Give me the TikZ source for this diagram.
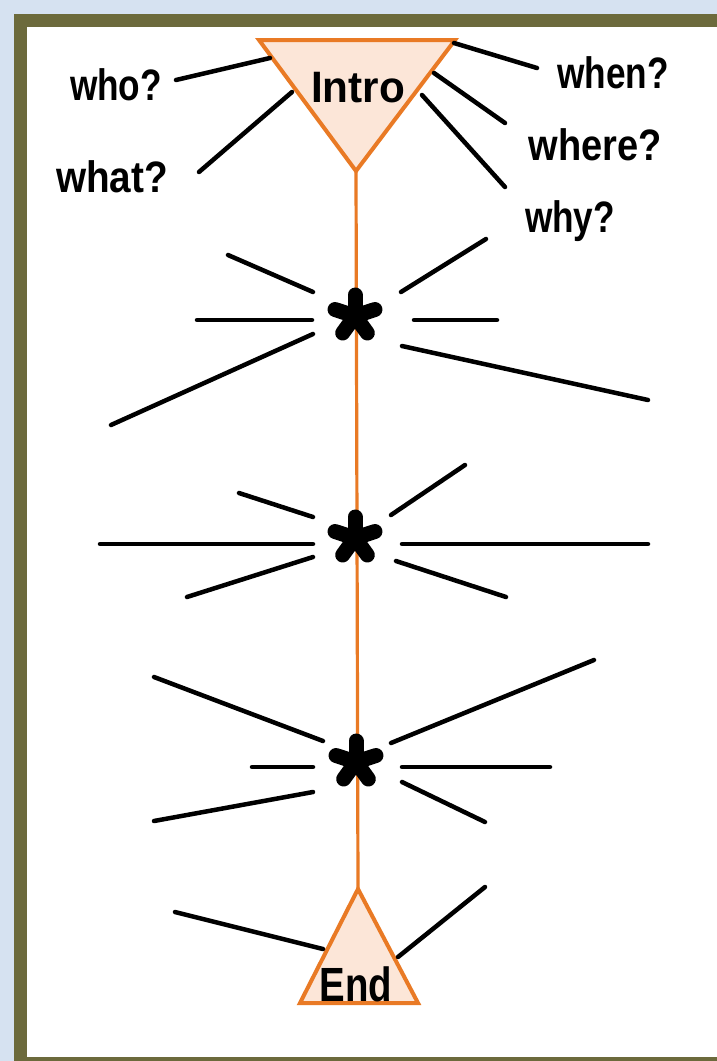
\documentclass[tikz,border=0pt]{standalone}
\usepackage{fontspec}
\setmainfont{Liberation Sans}[FakeStretch=0.8]
\definecolor{bgblue}{HTML}{D6E2F1}
\definecolor{olive}{HTML}{6C6A3C}
\definecolor{paper}{HTML}{FFFFFF}
\definecolor{tri}{HTML}{E97A25}
\definecolor{trifill}{HTML}{FCE6D8}
\tikzset{
  lbl/.style={anchor=base, inner sep=0pt, font=\fontsize{44}{44}\selectfont\bfseries},
  stroke/.style={draw=black, line width=4.5pt, line cap=round},
  spine/.style={draw=tri, line width=3.2pt},
  tribox/.style={draw=tri, fill=trifill, line width=4pt, line join=miter},
  asterisk/.pic={
    \foreach \a in {-90,-18,54,126,198}
      \draw[line width=15pt, line cap=round] (0,0) -- (\a:21);
  }
}
\begin{document}
\begin{tikzpicture}[x=1pt,y=-1pt]
\useasboundingbox (0,0) rectangle (717,1061);
% frame
\fill[bgblue] (0,0) rectangle (717,1061);
\fill[olive] (14,14) rectangle (717,1061);
\fill[paper] (27,27) rectangle (717,1057);

% coordinates of triangles
\coordinate (iL) at (259,40);
\coordinate (iR) at (455,40);
\coordinate (iA) at (356,171);
\coordinate (eA) at (358,889);
\coordinate (eL) at (300,1003);
\coordinate (eR) at (418,1003);

% spine
\draw[spine] (iA) -- (eA);

% triangles
\draw[tribox] (iL) -- (iR) -- (iA) -- cycle;
\draw[tribox] (eA) -- (eR) -- (eL) -- cycle;
\node[lbl] (intro) at (358,102) {\scalebox{1.2}[1]{Intro}};
\node[lbl, font=\fontsize{48}{48}\selectfont\bfseries] (end) at (356,1001) {End};

% labels
\node[lbl] (who) at (116,100) {who?};
\node[lbl] (what) at (112,192) {\scalebox{1.1}[1]{what?}};
\node[lbl] (when) at (613,88) {when?};
\node[lbl] (where) at (595,160) {\scalebox{1.08}[1]{where?}};
\node[lbl] (why) at (570,232) {why?};

% intro strokes
\draw[stroke] (176,80) -- (270,58);
\draw[stroke] (199,172) -- (292,92);
\draw[stroke] (454,43) -- (537,68);
\draw[stroke] (434,73) -- (505,123);
\draw[stroke] (422,95) -- (505,187);

% stars
\coordinate (s1) at (355,316);
\coordinate (s2) at (355,538);
\coordinate (s3) at (356,762);
\pic at (s1) {asterisk};
\pic at (s2) {asterisk};
\pic at (s3) {asterisk};

% star 1 strokes
\draw[stroke] (228,255) -- (313,292);
\draw[stroke] (197,320) -- (312,320);
\draw[stroke] (111,425) -- (313,334);
\draw[stroke] (401,292) -- (486,239);
\draw[stroke] (414,320) -- (497,320);
\draw[stroke] (402,346) -- (648,400);

% star 2 strokes
\draw[stroke] (239,493) -- (313,517);
\draw[stroke] (100,544) -- (313,544);
\draw[stroke] (187,597) -- (313,557);
\draw[stroke] (391,515) -- (465,465);
\draw[stroke] (402,544) -- (648,544);
\draw[stroke] (396,561) -- (506,597);

% star 3 strokes
\draw[stroke] (154,677) -- (323,741);
\draw[stroke] (252,767) -- (313,767);
\draw[stroke] (154,821) -- (313,792);
\draw[stroke] (391,743) -- (594,660);
\draw[stroke] (402,767) -- (550,767);
\draw[stroke] (402,782) -- (485,822);

% end strokes
\draw[stroke] (175,912) -- (323,949);
\draw[stroke] (398,957) -- (485,887);
\end{tikzpicture}
\end{document}
